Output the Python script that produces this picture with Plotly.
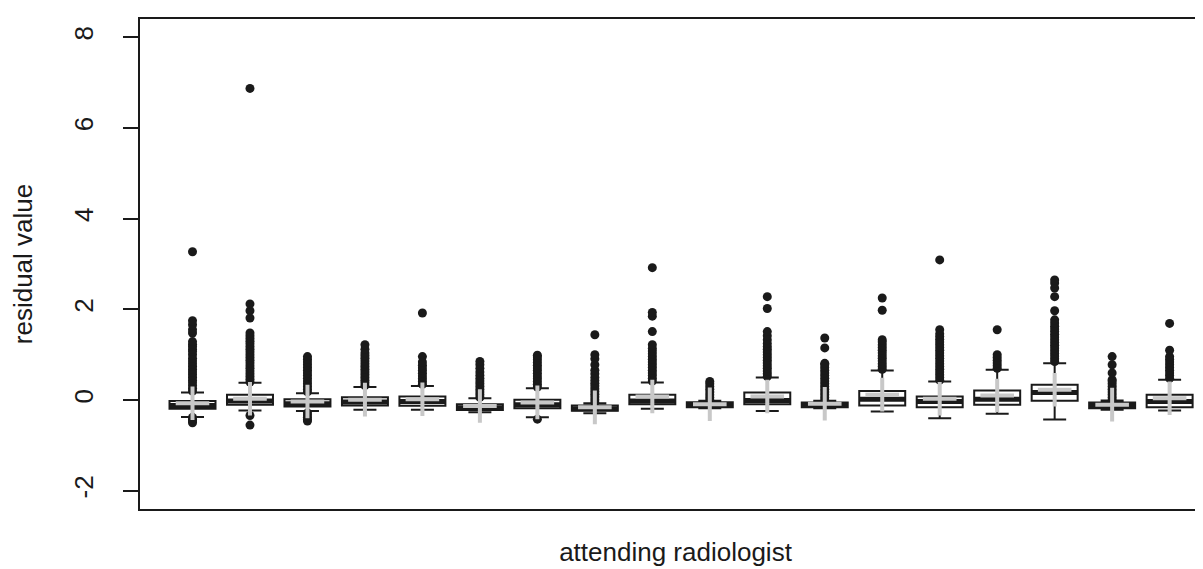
import plotly.graph_objects as go

# ---- data ----
radiologist = list(range(1, 19))

q1 = [-0.19, -0.10, -0.14, -0.12, -0.125, -0.22, -0.18, -0.235, -0.09, -0.16,
      -0.09, -0.16, -0.12, -0.155, -0.10, -0.015, -0.18, -0.155]
median = [-0.12, -0.02, -0.08, -0.04, -0.03, -0.17, -0.10, -0.19, -0.02, -0.11,
          -0.01, -0.12, 0.02, -0.03, 0.02, 0.17, -0.12, -0.03]
q3 = [-0.02, 0.12, 0.02, 0.065, 0.08, -0.09, 0.007, -0.12, 0.12, -0.045,
      0.17, -0.05, 0.20, 0.08, 0.21, 0.34, -0.05, 0.12]
lower_whisker = [-0.37, -0.23, -0.24, -0.21, -0.21, -0.27, -0.38, -0.29, -0.19, -0.18,
                 -0.24, -0.18, -0.25, -0.40, -0.30, -0.43, -0.21, -0.23]
upper_whisker = [0.17, 0.38, 0.15, 0.29, 0.31, 0.04, 0.26, -0.07, 0.39, -0.015,
                 0.50, -0.015, 0.65, 0.41, 0.67, 0.81, -0.01, 0.45]
mean = [-0.07, 0.03, -0.03, 0.01, 0.02, -0.13, -0.05, -0.16, 0.08, -0.09,
        0.08, -0.08, 0.12, 0.03, 0.10, 0.23, -0.10, 0.04]

outliers = [
    [-0.38, -0.42, -0.46, -0.50, 0.20, 0.26, 0.32, 0.38, 0.44, 0.50, 0.56, 0.62, 0.68,
     0.74, 0.80, 0.86, 0.92, 1.00, 1.07, 1.12, 1.18, 1.23, 1.29, 1.48, 1.55, 1.66, 1.75, 3.27],
    [-0.34, -0.55, 0.40, 0.46, 0.52, 0.58, 0.64, 0.70, 0.76, 0.82, 0.88, 0.94, 1.00, 1.06,
     1.12, 1.18, 1.24, 1.30, 1.36, 1.42, 1.48, 1.81, 1.97, 2.12, 6.87],
    [-0.28, -0.33, -0.38, -0.43, -0.46, 0.18, 0.24, 0.30, 0.36, 0.42, 0.48, 0.54, 0.60,
     0.66, 0.72, 0.78, 0.84, 0.90, 0.96],
    [0.32, 0.38, 0.44, 0.50, 0.56, 0.62, 0.68, 0.74, 0.80, 0.86, 0.92, 0.98, 1.04, 1.12, 1.22],
    [0.35, 0.41, 0.47, 0.53, 0.59, 0.65, 0.71, 0.77, 0.84, 0.96, 1.92],
    [0.06, 0.12, 0.18, 0.24, 0.30, 0.36, 0.42, 0.48, 0.55, 0.62, 0.70, 0.78, 0.85],
    [-0.42, 0.29, 0.35, 0.41, 0.47, 0.53, 0.59, 0.65, 0.71, 0.77, 0.83, 0.89, 0.95, 0.99],
    [-0.05, 0.01, 0.07, 0.13, 0.19, 0.25, 0.31, 0.37, 0.43, 0.50, 0.58, 0.66, 0.78, 0.91,
     1.00, 1.44],
    [0.42, 0.48, 0.54, 0.60, 0.66, 0.72, 0.78, 0.84, 0.90, 0.96, 1.02, 1.08, 1.14, 1.22,
     1.51, 1.85, 1.93, 2.92],
    [0.00, 0.06, 0.12, 0.18, 0.24, 0.30, 0.36, 0.41],
    [0.52, 0.58, 0.64, 0.70, 0.76, 0.82, 0.88, 0.94, 1.00, 1.06, 1.12, 1.18, 1.25, 1.33,
     1.42, 1.51, 2.02, 2.28],
    [0.00, 0.06, 0.12, 0.18, 0.24, 0.30, 0.36, 0.42, 0.48, 0.54, 0.60, 0.66, 0.72, 0.78,
     0.81, 1.15, 1.37],
    [0.68, 0.74, 0.80, 0.86, 0.92, 0.98, 1.04, 1.10, 1.16, 1.22, 1.28, 1.33, 1.98, 2.25],
    [0.44, 0.50, 0.56, 0.62, 0.68, 0.74, 0.80, 0.86, 0.92, 0.98, 1.04, 1.10, 1.16, 1.22,
     1.28, 1.34, 1.40, 1.46, 1.55, 3.09],
    [0.70, 0.76, 0.82, 0.88, 0.94, 1.00, 1.55],
    [0.85, 0.91, 0.97, 1.03, 1.09, 1.15, 1.21, 1.27, 1.33, 1.39, 1.45, 1.51, 1.57, 1.63,
     1.70, 1.77, 1.97, 2.28, 2.47, 2.58, 2.65],
    [0.00, 0.06, 0.12, 0.18, 0.24, 0.30, 0.36, 0.42, 0.45, 0.60, 0.78, 0.96],
    [0.48, 0.54, 0.60, 0.66, 0.72, 0.78, 0.84, 0.90, 0.96, 1.10, 1.69],
]

y_ticks = [-2, 0, 2, 4, 6, 8]

# ---- figure ----
FONT = "Liberation Sans, Arial, Helvetica, sans-serif"
INK = "#1a1a1a"
BOX_W = 0.8

fig = go.Figure()

fig.add_trace(go.Box(
    x=radiologist, q1=q1, median=median, q3=q3,
    lowerfence=lower_whisker, upperfence=upper_whisker,
    width=BOX_W, whiskerwidth=0.5,
    fillcolor="white", line=dict(color=INK, width=2),
    boxpoints=False, showlegend=False, hoverinfo="skip",
))

ox, oy = [], []
for xi, pts in zip(radiologist, outliers):
    ox += [xi] * len(pts)
    oy += pts
fig.add_trace(go.Scatter(
    x=ox, y=oy, mode="markers",
    marker=dict(color=INK, size=9, line=dict(width=0)),
    showlegend=False, hoverinfo="skip",
))

mx, my = [], []
for xi, m in zip(radiologist, median):
    mx += [xi - BOX_W / 2, xi + BOX_W / 2, None]
    my += [m, m, None]
fig.add_trace(go.Scatter(
    x=mx, y=my, mode="lines", line=dict(color=INK, width=5),
    showlegend=False, hoverinfo="skip",
))

fig.add_trace(go.Scatter(
    x=radiologist, y=mean, mode="markers",
    marker=dict(symbol="cross-thin", size=24, color="#c8c8c8",
                line=dict(width=4, color="#c8c8c8")),
    showlegend=False, hoverinfo="skip",
))

fig.update_layout(
    width=1203, height=569,
    margin=dict(l=132, r=0, t=11, b=68),
    paper_bgcolor="white", plot_bgcolor="white",
    font=dict(family=FONT, size=26, color=INK),
    xaxis=dict(
        range=[0.0865, 18.72], showticklabels=False, ticks="",
        showgrid=False, zeroline=False,
        showline=True, mirror=True, linecolor=INK, linewidth=2,
        title=dict(text="attending radiologist", standoff=33,
                   font=dict(family=FONT, size=26, color=INK)),
        automargin=False,
    ),
    yaxis=dict(
        range=[-2.4, 8.4], tickvals=y_ticks, ticktext=[str(v) for v in y_ticks],
        tickangle=-90, ticks="outside", ticklen=15, tickwidth=2, tickcolor=INK,
        ticklabelstandoff=20,
        showgrid=False, zeroline=False,
        showline=True, linecolor=INK, linewidth=2,
        title=dict(text="residual value", standoff=35,
                   font=dict(family=FONT, size=26, color=INK)),
        automargin=False,
    ),
)

fig.write_html("out.html")
